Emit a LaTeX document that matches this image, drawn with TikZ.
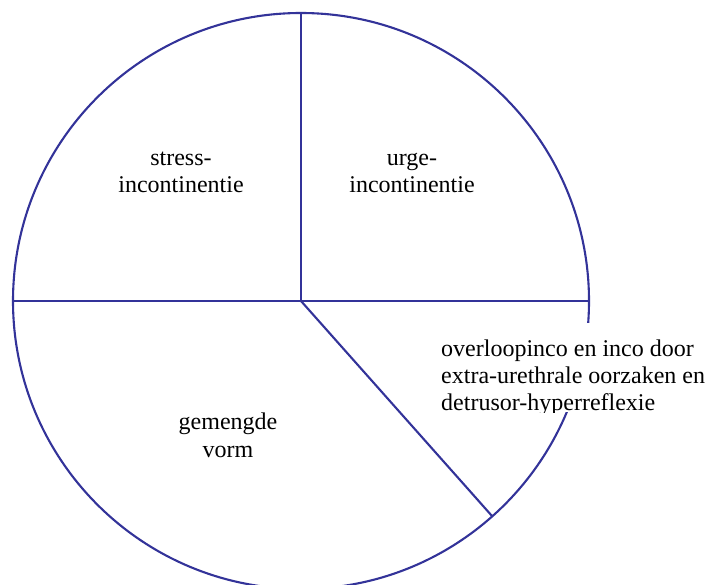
\documentclass[tikz,border=0pt]{standalone}
\usepackage{fontspec}
\setmainfont{Liberation Serif}
\definecolor{pieblue}{RGB}{51,51,153}
\begin{document}
\begin{tikzpicture}[x=1pt,y=-1pt,
  edge/.style={draw=pieblue,line width=2.1pt},
  lbl/.style={align=center,anchor=base,inner sep=0pt,font=\fontsize{24}{27.5}\selectfont},
  sidelbl/.style={align=left,anchor=base west,inner sep=0pt,font=\fontsize{24}{27}\selectfont}]
\useasboundingbox (0,0) rectangle (706,585);
\clip (0,0) rectangle (706,585);
\coordinate (c) at (301,301);
\coordinate (top) at (301,13);
\coordinate (left) at (13,301);
\coordinate (right) at (589,301);
\coordinate (rim) at (492,516);
\draw[edge] (c) circle[radius=288];
\draw[edge] (c) -- (top);
\draw[edge] (left) -- (right);
\draw[edge] (c) -- (rim);
\node[lbl] (stress) at (181,193) {stress-\\incontinentie};
\node[lbl] (urge) at (412,193) {urge-\\incontinentie};
\node[lbl] (mixed) at (228,457) {gemengde\\vorm};
\fill[white] (436,323) rectangle (706,412);
\begin{scope}
\clip (436,323) rectangle (706,412);
\node[sidelbl] (over) at (441,410) {overloopinco en inco door\\extra-urethrale oorzaken en\\detrusor-hyperreflexie};
\end{scope}
\end{tikzpicture}
\end{document}
